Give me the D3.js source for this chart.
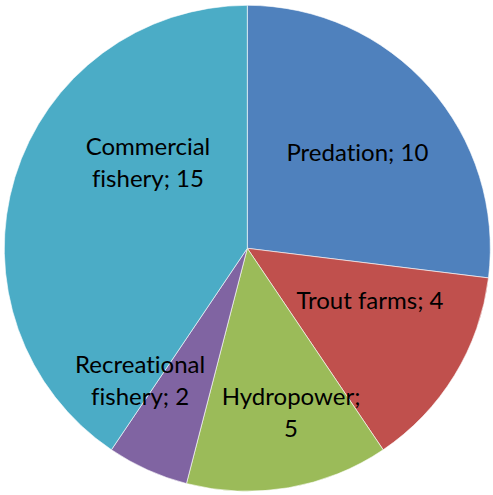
<!DOCTYPE html>
<html>
<head>
<meta charset="utf-8">
<script src="https://cdn.jsdelivr.net/npm/d3@7"></script>
<style>
  html, body { margin: 0; padding: 0; background: #ffffff; }
  svg { display: block; }
  text { font-variant-ligatures: none; font-feature-settings: "liga" 0; }
</style>
</head>
<body>
<div id="chart"></div>
<script>
// ---- data ----
const categories = ["Predation", "Trout farms", "Hydropower", "Recreational fishery", "Commercial fishery"];
const labelValues = [10, 4, 5, 2, 15];            // values printed in the labels
const sliceShares = [9.7, 4.9, 4.85, 1.95, 14.6];  // slice sizes
const labelLines = [
  ["Predation; 10"],
  ["Trout farms; 4"],
  ["Hydropower;", "5"],
  ["Recreational", "fishery; 2"],
  ["Commercial", "fishery; 15"]
];
const colors = ["#4F81BD", "#C0504D", "#9BBB59", "#8064A2", "#4BACC6"];

// ---- layout ----
const W = 493, H = 495;
const cx = 247.3, cy = 248.3, R = 243;
// label placement: polar (degrees clockwise from top, radius)
const labelPolar = [[49.4, 145], [113.6, 133.9], [165.2, 171.4], [218.7, 171.4], [310.3, 130.3]];
const lineGap = 32, fontSize = 24;

const svg = d3.select("#chart").append("svg").attr("width", W).attr("height", H);
const g = svg.append("g").attr("transform", `translate(${cx},${cy})`);

const pie = d3.pie().sort(null).value(d => d);
const arcs = pie(sliceShares);
const arc = d3.arc().innerRadius(0).outerRadius(R);

g.selectAll("path.slice").data(arcs).join("path")
  .attr("class", "slice")
  .attr("d", arc)
  .attr("fill", (d, i) => colors[i])
  .attr("stroke", "#ffffff")
  .attr("stroke-width", 0.6);

const labels = g.selectAll("text.lbl").data(arcs).join("text")
  .attr("class", "lbl")
  .attr("text-anchor", "middle")
  .attr("font-family", "Lato, 'Open Sans', sans-serif")
  .attr("font-size", fontSize)
  .attr("fill", "#000");

labels.each(function(d, i) {
  const [deg, rr] = labelPolar[i];
  const a = deg * Math.PI / 180;
  const x = rr * Math.sin(a), y = -rr * Math.cos(a);
  const lines = labelLines[i];
  const first = y - (lines.length - 1) * lineGap / 2 + 7;
  d3.select(this).selectAll("tspan").data(lines).join("tspan")
    .attr("x", x)
    .attr("y", (t, k) => first + k * lineGap)
    .text(t => t);
});
</script>
</body>
</html>
